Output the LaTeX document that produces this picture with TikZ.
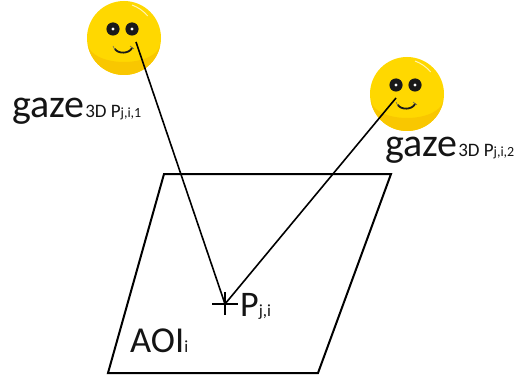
\documentclass[tikz,border=0pt]{standalone}
\usepackage{fontspec}
\setmainfont{Carlito}
\definecolor{smileY}{HTML}{FFD800}
\definecolor{smileD}{HTML}{F9C700}
\newcommand{\fs}[1]{\fontsize{#1}{#1}\selectfont}
\tikzset{
  lbl/.style={inner sep=0pt,anchor=base west,text=black!92},
  ink/.style={draw=black,line width=2pt},
  crossbar/.style={draw=black,line width=2.6pt},
  ray/.style={draw=black,line width=1.6pt},
  smiley/.pic={
    \fill[smileY] (0,0) circle (37);
    \begin{scope}
      \clip (0,0) circle (37);
      \fill[smileD] (-36,6) arc (180:0:36 and 18) -- (37,37) -- (-37,37) -- cycle;
    \end{scope}
    \draw[white!70!smileY,line width=1pt] (8,-33) arc (-70:-40:37);
    \foreach \x in {-11,8}{
      \fill[black!90] (\x,-9) circle (6.6);
      \fill[white] (\x,-9) circle (1.6);
    }
    \draw[black!90,line width=1.8pt,line cap=round] (-9,11) .. controls (-6,16) and (5,16) .. (8,10);
    \draw[black!60,line width=.6pt] (-11,8) -- (-9,12) (6,8) -- (10,11);
  }
}
\begin{document}
\begin{tikzpicture}[x=1pt,y=-1pt]
\useasboundingbox (0,0) rectangle (522,385);
\pic at (124,38) {smiley};
\pic at (407,94) {smiley};
\coordinate (a) at (164,174);
\coordinate (b) at (391,174);
\coordinate (c) at (318,373);
\coordinate (d) at (108,373);
\coordinate (e1) at (136,42);
\coordinate (e2) at (396,98);
\coordinate (p) at (225,304);
\coordinate (pl) at (212,304);
\coordinate (pr) at (238,304);
\coordinate (pt) at (225,292);
\coordinate (pb) at (225,315);
\draw[ink,line join=miter] (a) -- (b) -- (c) -- (d) -- cycle;
\draw[ray] (e1) -- (p);
\draw[ray] (e2) -- (p);
\draw[crossbar] (pl) -- (pr);
\draw[crossbar] (pt) -- (pb);
\node[lbl] (g1) at (12,118) {\fs{40}gaze\fs{19}\hspace{1pt}3D P\fs{14}j,i,1};
\node[lbl] (g2) at (385,157) {\fs{40}gaze\fs{19}\hspace{1pt}3D P\fs{14}j,i,2};
\node[lbl] (pj) at (240,316) {\fs{36}P\fs{17}j,i};
\node[lbl] (aoi) at (130,352) {\fs{36.5}AOI\fs{17}i};
\end{tikzpicture}
\end{document}
